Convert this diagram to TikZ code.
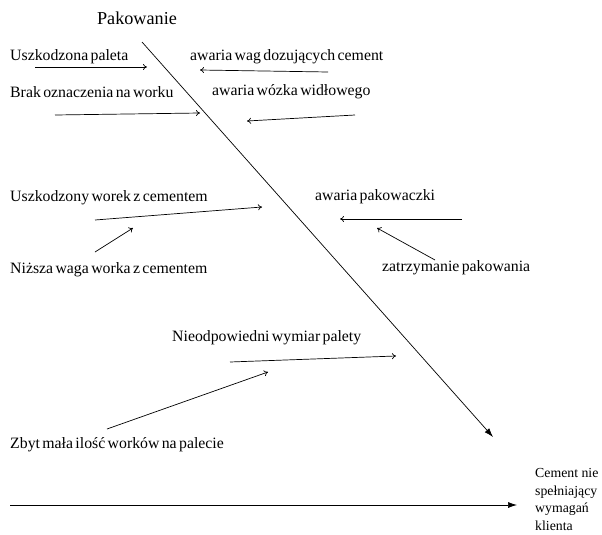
\documentclass[tikz,border=0pt]{standalone}
\usepackage{fontspec}
\setmainfont{Liberation Serif}
\usetikzlibrary{arrows.meta}
% slightly narrower inter-word spaces
\newcommand\tightwords{\spaceskip=0.15em plus 0.05em\relax}
\begin{document}
\begin{tikzpicture}[x=1pt,y=-1pt,
  lbl/.style={anchor=west,inner sep=0pt,font=\fontsize{15.8}{18}\selectfont\tightwords},
  cause/.style={line width=0.7pt,-{To[length=4pt,width=6pt]}},
  spine/.style={line width=0.7pt,-{Latex[length=9pt,width=6pt]}}]
\useasboundingbox (0,0) rectangle (602,535);
% title of the category
\node[inner sep=0pt,font=\fontsize{18.2}{20}\selectfont] (title) at (137,18) {Pakowanie};
% effect, four left-aligned lines
\node[anchor=north west,inner sep=0pt,font=\fontsize{13.8}{17.6}\selectfont] (effect) at (535,465)
  {\begin{tabular}{@{}l@{}}Cement nie\\spełniający\\wymagań\\klienta\end{tabular}};
% main spine and category bone
\coordinate (hs) at (10,505);
\coordinate (he) at (517,505);
\coordinate (ds) at (142,42);
\coordinate (de) at (493,437);
\draw[spine] (hs) -- (he);
\draw[spine] (ds) -- (de);
% cause labels
\node[lbl] (c1) at (10,57) {Uszkodzona paleta};
\node[lbl] (c2) at (190,57) {awaria wag dozujących cement};
\node[lbl] (c3) at (10,92) {Brak oznaczenia na worku};
\node[lbl] (c4) at (212,92) {awaria wózka widłowego};
\node[lbl] (c5) at (10,198) {Uszkodzony worek z cementem};
\node[lbl] (c6) at (10,270) {Niższa waga worka z cementem};
\node[lbl] (c7) at (315,197) {awaria pakowaczki};
\node[lbl] (c8) at (382,268) {zatrzymanie pakowania};
\node[lbl] (c9) at (172,338) {Nieodpowiedni wymiar palety};
\node[lbl] (c10) at (10,445) {Zbyt mała ilość worków na palecie};
% arrow end points
\coordinate (a1s) at (35,67);   \coordinate (a1e) at (147,67);
\coordinate (a2s) at (328,72);  \coordinate (a2e) at (200,70);
\coordinate (a3s) at (55,115);  \coordinate (a3e) at (200,113);
\coordinate (a4s) at (355,115); \coordinate (a4e) at (247,121);
\coordinate (a5s) at (95,220);  \coordinate (a5e) at (262,207);
\coordinate (a6s) at (95,252);  \coordinate (a6e) at (133,228);
\coordinate (a7s) at (462,219); \coordinate (a7e) at (340,219);
\coordinate (a8s) at (435,260); \coordinate (a8e) at (377,228);
\coordinate (a9s) at (230,362); \coordinate (a9e) at (396,356);
\coordinate (a10s) at (107,429);\coordinate (a10e) at (268,372);
\foreach \i in {1,...,10} \draw[cause] (a\i s) -- (a\i e);
\end{tikzpicture}
\end{document}
